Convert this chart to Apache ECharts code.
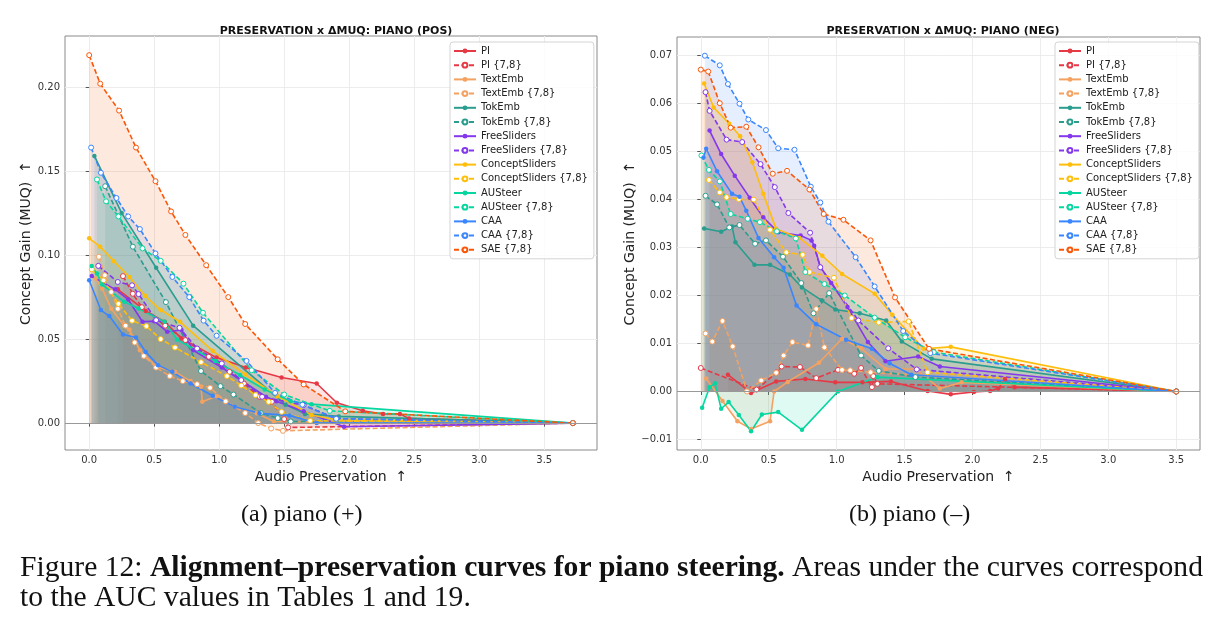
<!DOCTYPE html>
<html>
<head>
<meta charset="utf-8">
<script src="https://cdn.jsdelivr.net/npm/echarts@6/dist/echarts.min.js"></script>
<style>
html, body { margin: 0; padding: 0; background: #fff; }
#chart { width: 1221px; height: 631px; }
</style>
</head>
<body>
<div id="chart"></div>
<script>
// method names (legend order) and colours
const methodNames = ['PI', 'PI {7,8}', 'TextEmb', 'TextEmb {7,8}', 'TokEmb', 'TokEmb {7,8}',
  'FreeSliders', 'FreeSliders {7,8}', 'ConceptSliders', 'ConceptSliders {7,8}',
  'AUSteer', 'AUSteer {7,8}', 'CAA', 'CAA {7,8}', 'SAE {7,8}'];
const methodColors = ['#e63946', '#e63946', '#f4a261', '#f4a261', '#2a9d8f', '#2a9d8f',
  '#8338ec', '#8338ec', '#ffbe0b', '#ffbe0b', '#06d6a0', '#06d6a0', '#3a86ff', '#3a86ff', '#fb5607'];

// tick labels
const xTicks = [0, 0.5, 1.0, 1.5, 2.0, 2.5, 3.0, 3.5];
const posYTicks = [0, 0.05, 0.10, 0.15, 0.20];
const negYTicks = [-0.01, 0, 0.01, 0.02, 0.03, 0.04, 0.05, 0.06, 0.07];

// (a) piano (+): [audio preservation, concept gain]
const posPI = [[0.22,0.0796],[0.435,0.0668],[0.58,0.0603],[0.71,0.0504],[0.98,0.039],[1.205,0.0331],[1.48,0.0272],[1.75,0.0236],[1.905,0.0121],[2.105,0.0073],[2.26,0.0054],[2.39,0.0055],[2.46,0.0028],[3.72,0]];
const posPI78 = [[0.26,0.0875],[0.335,0.077],[0.405,0.069],[0.585,0.058],[0.74,0.0494],[0.92,0.0395],[1.08,0.0305],[1.19,0.0236],[1.31,0.0157],[1.405,0.0127],[1.50,0.0024],[1.53,-0.0026],[3.72,0]];
const posTextEmb = [[0.05,0.086],[0.10,0.080],[0.17,0.068],[0.27,0.058],[0.31,0.0557],[0.39,0.0434],[0.52,0.0335],[0.66,0.0305],[0.78,0.025],[0.86,0.0216],[0.87,0.0127],[0.98,0.016],[1.12,0.0097],[1.29,0.0058],[1.42,0.001],[3.72,0]];
const posTextEmb78 = [[0.075,0.099],[0.12,0.088],[0.17,0.078],[0.22,0.068],[0.28,0.058],[0.35,0.048],[0.42,0.040],[0.515,0.0331],[0.62,0.028],[0.72,0.025],[0.83,0.0232],[0.93,0.021],[1.05,0.013],[1.20,0.006],[1.30,0.0],[1.40,-0.0032],[1.49,-0.0046],[3.72,0]];
const posTokEmb = [[0.04,0.159],[0.25,0.125],[0.515,0.0925],[0.80,0.058],[1.51,0.011],[1.66,0.0055],[1.92,0.004],[3.72,0]];
const posTokEmb78 = [[0.123,0.141],[0.336,0.105],[0.59,0.072],[0.86,0.031],[1.01,0.022],[1.11,0.017],[1.32,0.006],[1.45,0.003],[1.55,0.001],[3.72,0]];
const posFree = [[0.02,0.0875],[0.20,0.0796],[0.30,0.0736],[0.41,0.0603],[0.50,0.0607],[0.60,0.0544],[0.71,0.0554],[0.80,0.0434],[1.02,0.0331],[1.36,0.0157],[1.44,0.013],[1.65,0.0071],[1.96,-0.0022],[3.72,0]];
const posFree78 = [[0.07,0.0936],[0.22,0.084],[0.33,0.082],[0.38,0.0768],[0.515,0.0613],[0.695,0.0567],[0.83,0.0444],[1.02,0.0355],[1.17,0.0256],[1.33,0.0157],[1.65,0.0107],[1.90,0.0026],[3.72,0]];
const posConcept = [[0.0,0.110],[0.085,0.105],[0.19,0.0964],[0.31,0.087],[0.43,0.0758],[0.55,0.0673],[0.70,0.0603],[0.95,0.043],[1.20,0.029],[1.45,0.016],[1.71,0.0048],[1.90,0.002],[3.72,0]];
const posConcept78 = [[0.02,0.0915],[0.11,0.085],[0.225,0.071],[0.33,0.061],[0.44,0.0577],[0.55,0.050],[0.66,0.045],[0.86,0.0363],[1.06,0.028],[1.17,0.0224],[1.28,0.0167],[1.38,0.0127],[1.48,0.0067],[1.70,0.0014],[3.72,0]];
const posAU = [[0.02,0.0935],[0.06,0.089],[0.10,0.0825],[0.27,0.0722],[0.38,0.0682],[0.58,0.0603],[0.675,0.0498],[0.97,0.037],[1.16,0.0286],[1.35,0.020],[1.55,0.013],[1.71,0.0113],[3.72,0]];
const posAU78 = [[0.06,0.145],[0.13,0.132],[0.225,0.123],[0.41,0.104],[0.55,0.0966],[0.725,0.083],[0.875,0.0657],[1.25,0.0315],[1.50,0.017],[1.85,0.0073],[3.72,0]];
const posCAA = [[0.0,0.085],[0.09,0.0673],[0.155,0.0637],[0.26,0.0528],[0.36,0.051],[0.435,0.0424],[0.53,0.0345],[0.64,0.0305],[0.78,0.0236],[0.95,0.0163],[1.12,0.0097],[1.31,0.0058],[1.54,0.0046],[1.75,0.0],[3.72,0]];
const posCAA78 = [[0.015,0.164],[0.09,0.149],[0.21,0.134],[0.30,0.123],[0.39,0.1155],[0.51,0.101],[0.64,0.087],[0.77,0.075],[0.88,0.061],[0.98,0.052],[1.21,0.037],[1.43,0.018],[1.64,0.011],[1.90,0.0026],[3.72,0]];
const posSAE78 = [[0.0,0.219],[0.085,0.202],[0.23,0.186],[0.36,0.164],[0.51,0.144],[0.63,0.126],[0.74,0.112],[0.90,0.094],[1.07,0.075],[1.20,0.059],[1.45,0.038],[1.65,0.023],[1.97,0.007],[3.72,0]];

// (b) piano (-)
const negPI = [[0.20,0.0035],[0.37,-0.0003],[0.555,0.0021],[0.77,0.0026],[0.99,0.0019],[1.19,0.0019],[1.40,0.0021],[1.67,0.0001],[1.84,-0.0006],[2.01,-0.0001],[2.13,0.0001],[2.19,0.0006],[2.24,0.0026],[2.31,0.0009],[3.5,0]];
const negPI78 = [[0.0,0.0049],[0.41,0.0004],[0.56,0.004],[0.595,0.0052],[0.73,0.0051],[0.85,0.0028],[1.01,0.0045],[1.13,0.0037],[1.18,0.0049],[1.26,0.0009],[1.27,0.0032],[1.30,0.0016],[3.5,0]];
const negTextEmb = [[0.04,0.0027],[0.16,-0.002],[0.27,-0.0062],[0.37,-0.0078],[0.51,-0.0062],[0.54,0.0],[0.64,0.002],[0.87,0.006],[1.04,0.011],[1.18,0.009],[1.36,0.0047],[1.58,0.0047],[1.76,0.0006],[1.92,0.0019],[3.5,0]];
const negTextEmb78 = [[0.035,0.0121],[0.085,0.0104],[0.16,0.0147],[0.235,0.0094],[0.34,0.0],[0.445,0.0023],[0.555,0.0039],[0.61,0.0075],[0.675,0.0103],[0.79,0.0096],[0.85,0.0172],[0.91,0.0092],[1.04,0.0045],[1.10,0.0044],[1.25,0.004],[3.5,0]];
const negTokEmb = [[0.025,0.034],[0.15,0.0333],[0.23,0.0344],[0.255,0.0311],[0.395,0.0264],[0.51,0.0264],[0.655,0.0244],[0.745,0.0217],[0.89,0.019],[0.99,0.0171],[1.17,0.0163],[1.365,0.0148],[1.48,0.0104],[1.70,0.0068],[3.5,0]];
const negTokEmb78 = [[0.035,0.0408],[0.12,0.039],[0.21,0.0342],[0.285,0.0347],[0.40,0.0308],[0.48,0.0315],[0.605,0.0281],[0.74,0.0226],[0.83,0.0163],[0.945,0.0205],[1.18,0.0075],[1.31,0.0043],[1.58,0.003],[3.5,0]];
const negFree = [[0.065,0.0544],[0.15,0.0495],[0.25,0.045],[0.36,0.0404],[0.46,0.0363],[0.57,0.0332],[0.735,0.0325],[0.815,0.0315],[0.835,0.0304],[0.88,0.026],[0.96,0.0226],[1.08,0.0176],[1.23,0.0103],[1.36,0.0063],[1.60,0.0073],[1.76,0.0052],[3.5,0]];
const negFree78 = [[0.035,0.0624],[0.065,0.0585],[0.19,0.0525],[0.305,0.052],[0.44,0.0474],[0.545,0.0426],[0.645,0.0372],[0.805,0.0331],[0.88,0.0259],[1.16,0.0148],[1.38,0.009],[1.59,0.0046],[3.5,0]];
const negConcept = [[0.025,0.0642],[0.095,0.0592],[0.21,0.0558],[0.29,0.0532],[0.38,0.0478],[0.46,0.0412],[0.555,0.0339],[0.725,0.032],[0.895,0.0283],[1.04,0.0245],[1.28,0.0204],[1.41,0.016],[1.64,0.0089],[1.84,0.0093],[3.5,0]];
const negConcept78 = [[0.06,0.0441],[0.14,0.0415],[0.19,0.0405],[0.28,0.0401],[0.39,0.040],[0.51,0.0337],[0.63,0.029],[0.75,0.0285],[0.80,0.0249],[0.98,0.0237],[1.11,0.0153],[1.31,0.0144],[1.53,0.0146],[1.67,0.004],[3.5,0]];
const negAU = [[0.01,-0.0034],[0.065,0.0009],[0.105,0.0017],[0.15,-0.0036],[0.205,-0.0022],[0.28,-0.0049],[0.37,-0.0083],[0.45,-0.0048],[0.57,-0.0043],[0.745,-0.008],[1.01,0.0],[1.30,0.003],[3.5,0]];
const negAU78 = [[0.005,0.0492],[0.06,0.0462],[0.14,0.0438],[0.22,0.037],[0.345,0.036],[0.435,0.0353],[0.56,0.0334],[0.70,0.0319],[0.77,0.0249],[0.91,0.0224],[1.06,0.020],[1.28,0.0154],[1.505,0.0113],[1.715,0.0082],[3.5,0]];
const negCAA = [[0.02,0.0488],[0.04,0.0506],[0.12,0.0459],[0.23,0.0412],[0.285,0.0406],[0.335,0.0377],[0.425,0.032],[0.54,0.028],[0.61,0.0258],[0.705,0.0179],[0.85,0.014],[1.07,0.0108],[1.26,0.0089],[1.39,0.0059],[1.55,0.0035],[3.5,0]];
const negCAA78 = [[0.03,0.070],[0.14,0.068],[0.20,0.0641],[0.285,0.060],[0.35,0.0567],[0.48,0.0545],[0.57,0.0507],[0.69,0.0504],[0.81,0.0427],[0.88,0.0394],[0.94,0.0354],[1.14,0.028],[1.28,0.0219],[1.49,0.0126],[1.69,0.008],[3.5,0]];
const negSAE78 = [[0.0,0.0671],[0.055,0.0667],[0.14,0.0601],[0.22,0.055],[0.335,0.0552],[0.425,0.0509],[0.53,0.0454],[0.635,0.046],[0.80,0.0421],[0.905,0.037],[1.05,0.0358],[1.25,0.0315],[1.43,0.0196],[1.68,0.0089],[3.5,0]];

const posData = [posPI, posPI78, posTextEmb, posTextEmb78, posTokEmb, posTokEmb78, posFree, posFree78,
  posConcept, posConcept78, posAU, posAU78, posCAA, posCAA78, posSAE78];
const negData = [negPI, negPI78, negTextEmb, negTextEmb78, negTokEmb, negTokEmb78, negFree, negFree78,
  negConcept, negConcept78, negAU, negAU78, negCAA, negCAA78, negSAE78];

const FONT = 'DejaVu Sans';
const SERIF = 'Liberation Serif';

function mk(i, data, gi) {
  const color = methodColors[i];
  const hollow = methodNames[i].indexOf('{') >= 0;
  return {
    name: methodNames[i],
    type: 'line',
    xAxisIndex: gi,
    yAxisIndex: gi,
    data: data,
    symbol: 'circle',
    symbolSize: hollow ? 5 : 4.5,
    showSymbol: true,
    lineStyle: { color: color, width: 1.6, type: hollow ? [5, 2.5] : 'solid' },
    itemStyle: { color: hollow ? '#fff' : color, borderColor: color, borderWidth: hollow ? 1 : 0 },
    areaStyle: { color: color, opacity: 0.13 },
    emphasis: { disabled: true },
    silent: true
  };
}

function zeroLine() {
  return {
    silent: true, symbol: 'none', label: { show: false },
    lineStyle: { color: '#999', type: 'solid', width: 1.2 },
    data: [{ yAxis: 0 }]
  };
}

const series = [];
posData.forEach((d, i) => series.push(mk(i, d, 0)));
negData.forEach((d, i) => series.push(mk(i, d, 1)));
series[0].markLine = zeroLine();
series[15].markLine = zeroLine();

function fmtY(v) {
  return v < 0 ? '\u2212' + Math.abs(v).toFixed(2) : v.toFixed(2);
}

function xAxisCfg(gi, min, max) {
  return {
    type: 'value', gridIndex: gi, min: min, max: max,
    name: 'Audio Preservation  \u2191', nameLocation: 'middle', nameGap: 13,
    nameTextStyle: { fontFamily: FONT, fontSize: 14, color: '#222' },
    axisLine: { show: false },
    axisTick: { show: true, length: 3.5, customValues: xTicks, lineStyle: { color: '#555' } },
    axisLabel: { customValues: xTicks, formatter: v => v.toFixed(1), fontFamily: FONT, fontSize: 10, color: '#333', margin: 5 },
    splitLine: { show: true, lineStyle: { color: '#ececec', width: 1 } }
  };
}

function yAxisCfg(gi, min, max, ticks, gap) {
  return {
    type: 'value', gridIndex: gi, min: min, max: max,
    name: 'Concept Gain (MUQ)  \u2191', nameLocation: 'middle', nameGap: gap,
    nameTextStyle: { fontFamily: FONT, fontSize: 14, color: '#222' },
    axisLine: { show: false },
    axisTick: { show: true, length: 3.5, customValues: ticks, lineStyle: { color: '#555' } },
    axisLabel: { customValues: ticks, formatter: fmtY, fontFamily: FONT, fontSize: 10, color: '#333', margin: 5 },
    splitLine: { show: true, lineStyle: { color: '#ececec', width: 1 } }
  };
}

function legendCfg(left) {
  return {
    orient: 'vertical', left: left, top: 42,
    itemWidth: 22, itemHeight: 6, itemGap: 2.2,
    padding: [3, 6, 3, 3],
    backgroundColor: 'rgba(255,255,255,0.85)',
    borderColor: '#d4d4d4', borderWidth: 1, borderRadius: 3,
    textStyle: { fontFamily: FONT, fontSize: 10, color: '#222', lineHeight: 12 },
    selectedMode: false,
    data: methodNames
  };
}

const option = {
  animation: false,
  backgroundColor: '#fff',
  title: [
    { text: 'PRESERVATION x \u0394MUQ: PIANO (POS)', left: 331, top: 21, textAlign: 'center',
      textStyle: { fontFamily: FONT, fontWeight: 'bold', fontSize: 11, color: '#111' } },
    { text: 'PRESERVATION x \u0394MUQ: PIANO (NEG)', left: 938, top: 21, textAlign: 'center',
      textStyle: { fontFamily: FONT, fontWeight: 'bold', fontSize: 11, color: '#111' } }
  ],
  grid: [
    { left: 65, top: 36, width: 532, height: 414, show: true, borderColor: '#8a8a8a', borderWidth: 1, backgroundColor: '#fff' },
    { left: 677, top: 37, width: 523, height: 413, show: true, borderColor: '#8a8a8a', borderWidth: 1, backgroundColor: '#fff' }
  ],
  xAxis: [xAxisCfg(0, -0.186, 3.906), xAxisCfg(1, -0.175, 3.675)],
  yAxis: [yAxisCfg(0, -0.016, 0.2304, posYTicks, 25), yAxisCfg(1, -0.0122, 0.0739, negYTicks, 30)],
  legend: [legendCfg(450), legendCfg(1055)],
  series: series,
  graphic: [
    { type: 'text', left: 241, top: 503,
      style: { text: '(a) piano (+)', fontFamily: SERIF, fontSize: 24, fill: '#111' } },
    { type: 'text', left: 849, top: 503,
      style: { text: '(b) piano (\u2013)', fontFamily: SERIF, fontSize: 24, fill: '#111' } },
    { type: 'text', left: 20, top: 553,
      style: {
        text: '{n|Figure 12: }{b|Alignment\u2013preservation curves for piano steering.}{n| Areas under the curves correspond}',
        rich: {
          n: { fontFamily: SERIF, fontSize: 29.6, fill: '#111' },
          b: { fontFamily: SERIF, fontSize: 29.6, fontWeight: 'bold', fill: '#111' }
        }
      } },
    { type: 'text', left: 20, top: 583,
      style: { text: 'to the AUC values in Tables 1 and 19.', fontFamily: SERIF, fontSize: 29.6, fill: '#111' } }
  ]
};

const chart = echarts.init(document.getElementById('chart'), null, { renderer: 'canvas' });
chart.setOption(option);
</script>
</body>
</html>
